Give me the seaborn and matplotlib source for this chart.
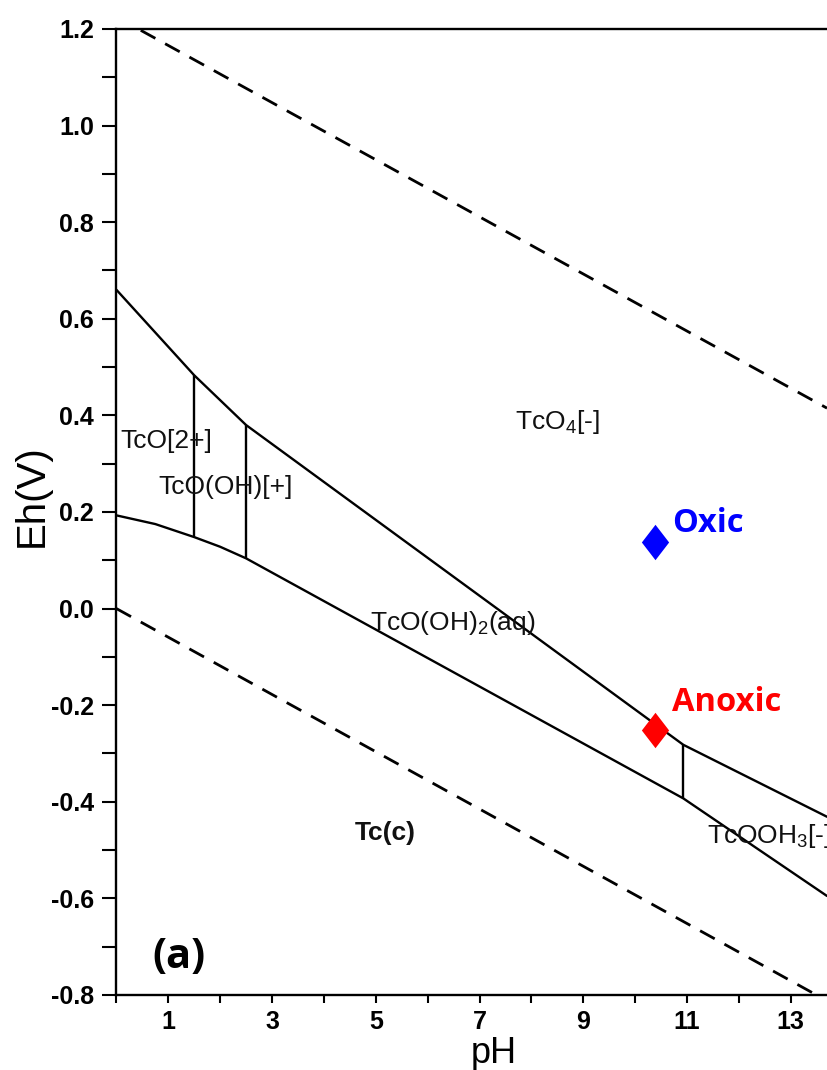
import matplotlib
matplotlib.use("Agg")
import matplotlib.pyplot as plt
import seaborn as sns
from matplotlib.ticker import MultipleLocator, FormatStrFormatter

# Boundary lines (pH, Eh in V)
ph_upper = [0, 1.5, 2.5, 10.93, 13.7]
eh_upper = [0.66, 0.483, 0.38, -0.282, -0.431]

ph_lower = [0, 0.75, 1.5, 2.0, 2.5, 10.93, 13.7]
eh_lower = [0.193, 0.175, 0.148, 0.128, 0.104, -0.393, -0.595]

# vertical boundaries between aqueous species
vert_ph = [1.5, 2.5, 10.93]
vert_bottom = [0.148, 0.104, -0.393]
vert_top = [0.483, 0.38, -0.282]

# water stability limits
ph_water = [0, 13.7]
eh_o2 = [1.225, 0.415]
eh_h2 = [0.0, -0.812]

# sample conditions
sample_names = ["Oxic", "Anoxic"]
sample_ph = [10.38, 10.38]
sample_eh = [0.138, -0.251]
sample_colors = ["#0000FF", "#FF0000"]

sns.set_style("ticks")
plt.rcParams["font.family"] = ["Liberation Sans", "DejaVu Sans"]
plt.rcParams["mathtext.fontset"] = "custom"
plt.rcParams["mathtext.rm"] = "Liberation Sans"
plt.rcParams["mathtext.default"] = "regular"
plt.rcParams["axes.unicode_minus"] = False
for key in ["text.color", "axes.labelcolor", "xtick.color", "ytick.color"]:
    plt.rcParams[key] = "black"

fig = plt.figure(figsize=(8.27, 10.70), dpi=100)
ax = fig.add_axes([0.1408, 0.0701, 0.8592, 0.9028])

sns.lineplot(x=ph_upper, y=eh_upper, ax=ax, color="black", lw=1.7,
             sort=False, estimator=None)
sns.lineplot(x=ph_lower, y=eh_lower, ax=ax, color="black", lw=1.7,
             sort=False, estimator=None)
ax.vlines(vert_ph, vert_bottom, vert_top, color="black", lw=1.7)

sns.lineplot(x=ph_water, y=eh_o2, ax=ax, color="black", lw=2.0,
             linestyle=(0, (6, 4)), sort=False, estimator=None)
sns.lineplot(x=ph_water, y=eh_h2, ax=ax, color="black", lw=2.0,
             linestyle=(0, (6, 4)), sort=False, estimator=None)

diamond = [(0, 1), (0.77, 0), (0, -1), (-0.77, 0), (0, 1)]
for name, x, y, c in zip(sample_names, sample_ph, sample_eh, sample_colors):
    sns.scatterplot(x=[x], y=[y], ax=ax, marker=diamond, s=650, color=c,
                    linewidth=0, zorder=5)

ax.text(10.71, 0.177, "Oxic", color="#0000FF", fontsize=23.5,
        fontweight="bold", family="Open Sans", ha="left", va="center")
ax.text(10.71, -0.194, "Anoxic", color="#FF0000", fontsize=23.5,
        fontweight="bold", family="Open Sans", ha="left", va="center")

# species labels
lab = dict(fontsize=19, color="#111111", va="center", ha="left")
ax.text(0.07, 0.347, "TcO[2+]", **lab)
ax.text(0.80, 0.252, "TcO(OH)[+]", **lab)
ax.text(7.68, 0.386, r"TcO$_4$[-]", **lab)
ax.text(4.89, -0.03, r"TcO(OH)$_2$(aq)", **lab)
ax.text(4.60, -0.465, "Tc(c)", fontweight="bold", **lab)
ax.text(11.39, -0.471, r"TcOOH$_3$[-]", **lab)

ax.text(1.21, -0.723, "(a)", fontsize=30, fontweight="bold",
        family="Open Sans", color="black", ha="center", va="center")

ax.set_xlim(0, 13.7)
ax.set_ylim(-0.8, 1.2)
ax.xaxis.set_major_locator(MultipleLocator(2, offset=1))
ax.xaxis.set_minor_locator(MultipleLocator(1))
ax.yaxis.set_major_locator(MultipleLocator(0.2))
ax.yaxis.set_minor_locator(MultipleLocator(0.1))
ax.yaxis.set_major_formatter(FormatStrFormatter("%.1f"))

ax.tick_params(axis="x", which="both", direction="out", length=6,
               width=1.5, color="black", pad=5)
ax.tick_params(axis="y", which="both", direction="out", length=10,
               width=1.5, color="black", pad=6)
for t in ax.get_xticklabels() + ax.get_yticklabels():
    t.set_fontsize(18)
    t.set_fontweight("bold")

for side in ["left", "bottom", "top"]:
    ax.spines[side].set_linewidth(1.7)
    ax.spines[side].set_color("black")
ax.spines["right"].set_visible(False)

ax.set_xlabel("pH", fontsize=26)
ax.set_ylabel("Eh(V)", fontsize=29)
ax.xaxis.set_label_coords(0.531, -0.0425)
ax.yaxis.set_label_coords(-0.092, 0.517)

fig.savefig("out.png", dpi=100)
